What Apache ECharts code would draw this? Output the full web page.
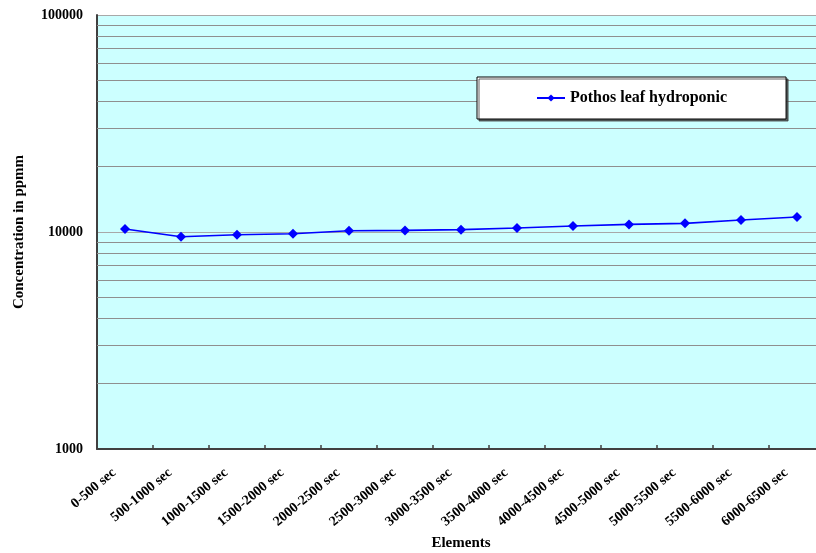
<!DOCTYPE html>
<html>
<head>
<meta charset="utf-8">
<script src="https://cdn.jsdelivr.net/npm/echarts@6/dist/echarts.min.js"></script>
<style>
  html, body { margin: 0; padding: 0; background: #ffffff; }
  #chart { width: 816px; height: 553px; }
</style>
</head>
<body>
<div id="chart"></div>
<script>
// Time windows along the x axis
const categories = [
  '0-500 sec', '500-1000 sec', '1000-1500 sec', '1500-2000 sec',
  '2000-2500 sec', '2500-3000 sec', '3000-3500 sec', '3500-4000 sec',
  '4000-4500 sec', '4500-5000 sec', '5000-5500 sec', '5500-6000 sec',
  '6000-6500 sec'
];

// Concentration (ppmm) per window
const pothosLeaf = [
  10320, 9510, 9720, 9820, 10140, 10170, 10250,
  10430, 10660, 10840, 10960, 11360, 11730
];

// Log axis range and the intermediate grid values inside each decade
const yMin = 1000;
const yMax = 100000;
const minorGridValues = [
  2000, 3000, 4000, 5000, 6000, 7000, 8000, 9000,
  20000, 30000, 40000, 50000, 60000, 70000, 80000, 90000
];

const serif = '"Liberation Serif", "Times New Roman", serif';

const chart = echarts.init(document.getElementById('chart'), null, { renderer: 'canvas' });

chart.setOption({
  animation: false,
  backgroundColor: '#ffffff',
  textStyle: { fontFamily: serif },
  grid: {
    left: 97,
    top: 15,
    width: 728,
    bottom: 104,
    outerBoundsMode: 'none',
    containLabel: false,
    show: true,
    backgroundColor: '#ccffff',
    borderWidth: 0
  },
  legend: {
    left: 477,
    top: 77,
    z: 20,
    orient: 'horizontal',
    padding: [13, 59, 13, 59],
    backgroundColor: '#ffffff',
    borderColor: '#000000',
    borderWidth: 1,
    shadowColor: 'rgba(60,60,60,0.8)',
    shadowBlur: 0,
    shadowOffsetX: 2,
    shadowOffsetY: 2,
    itemWidth: 28,
    itemHeight: 9,
    itemGap: 5,
    textStyle: {
      fontFamily: serif,
      fontWeight: 'bold',
      fontSize: 16,
      color: '#000000'
    },
    data: ['Pothos leaf hydroponic']
  },
  xAxis: {
    type: 'category',
    data: categories,
    boundaryGap: true,
    name: 'Elements',
    nameLocation: 'middle',
    nameGap: 87,
    nameTextStyle: {
      fontFamily: serif,
      fontWeight: 'bold',
      fontSize: 15,
      color: '#000000'
    },
    axisLine: { show: true, lineStyle: { color: '#404040', width: 2 } },
    axisTick: {
      show: true,
      inside: true,
      length: 4,
      lineStyle: { color: '#404040', width: 1.5 }
    },
    axisLabel: {
      interval: 0,
      rotate: 40,
      margin: 13,
      padding: [0, 14, 0, 0],
      fontFamily: serif,
      fontWeight: 'bold',
      fontSize: 14,
      color: '#000000'
    },
    splitLine: { show: false }
  },
  yAxis: {
    type: 'log',
    logBase: 10,
    min: yMin,
    max: yMax,
    name: 'Concentration in ppmm',
    nameLocation: 'middle',
    nameGap: 70,
    nameTextStyle: {
      fontFamily: serif,
      fontWeight: 'bold',
      fontSize: 15,
      color: '#000000'
    },
    axisLine: { show: true, lineStyle: { color: '#404040', width: 2 } },
    axisTick: { show: false },
    axisLabel: {
      margin: 14,
      fontFamily: serif,
      fontWeight: 'bold',
      fontSize: 14,
      color: '#000000',
      formatter: v => String(Math.round(v))
    },
    splitLine: {
      show: true,
      lineStyle: { color: ['#a8a8a8', '#000000', '#a8a8a8'], width: 1 }
    },
    minorTick: { show: false },
    minorSplitLine: { show: false }
  },
  series: [
    {
      name: 'Pothos leaf hydroponic',
      type: 'line',
      data: pothosLeaf,
      symbol: 'diamond',
      symbolSize: 10,
      showSymbol: true,
      itemStyle: { color: '#0000ff' },
      lineStyle: { color: '#0000ff', width: 1.6 },
      z: 3,
      markLine: {
        silent: true,
        symbol: ['none', 'none'],
        label: { show: false },
        emphasis: { disabled: true },
        animation: false,
        z: 1,
        lineStyle: { type: 'solid', color: '#8f8f8f', width: 1 },
        data: minorGridValues.map(v => ({ yAxis: v }))
      }
    }
  ]
});
</script>
</body>
</html>
